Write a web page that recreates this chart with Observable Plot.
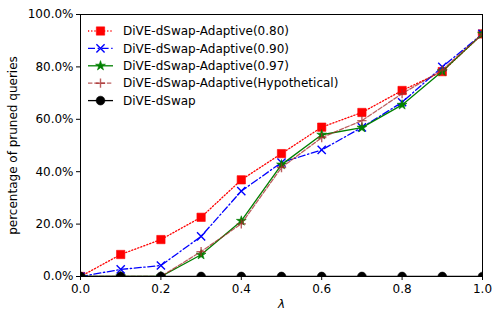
<!DOCTYPE html>
<html>
<head>
<meta charset="utf-8">
<script src="https://cdn.jsdelivr.net/npm/d3@7"></script>
<script src="https://cdn.jsdelivr.net/npm/@observablehq/plot@0.6"></script>
<style>
  html, body { margin: 0; padding: 0; background: #fff; }
  svg { font-family: "DejaVu Sans", sans-serif; }
</style>
</head>
<body>
<div id="chart"></div>
<script>
const lambdas = [0, 0.1, 0.2, 0.3, 0.4, 0.5, 0.6, 0.7, 0.8, 0.9, 1.0];
const adaptive080 = [0, 8.4, 14.1, 22.6, 36.9, 46.9, 57.0, 62.6, 71.0, 78.2, 92.6];
const adaptive090 = [0, 2.7, 4.2, 15.3, 32.6, 43.5, 48.3, 56.9, 66.5, 80.0, 92.6];
const adaptive097 = [0, 0, 0, 8.3, 21.2, 42.7, 54.1, 56.8, 65.5, 78.3, 92.6];
const hypothetical = [0, 0, 0, 9.5, 20.1, 41.6, 53.0, 59.5, 69.8, 78.8, 92.6];
const dswap = [0, 0, 0, 0, 0, 0, 0, 0, 0, 0, 0];
const seriesNames = [
  "DiVE-dSwap-Adaptive(0.80)",
  "DiVE-dSwap-Adaptive(0.90)",
  "DiVE-dSwap-Adaptive(0.97)",
  "DiVE-dSwap-Adaptive(Hypothetical)",
  "DiVE-dSwap"
];
const yTicks = [0, 0.2, 0.4, 0.6, 0.8, 1.0];
const xTicks = [0, 0.2, 0.4, 0.6, 0.8, 1.0];

const seriesValues = [adaptive080, adaptive090, adaptive097, hypothetical, dswap];
const styles = [
  {color: "#ff0000", dash: "1.2,2", symbol: "square", r: 4.7, filled: true, opacity: 1},
  {color: "#0000ff", dash: "7,2.6,1.4,2.6", symbol: "times", r: 3.8, filled: false, opacity: 1},
  {color: "#008000", dash: null, symbol: "star", r: 3.1, filled: true, opacity: 1},
  {color: "#a52a2a", dash: "4.4,1.9", symbol: "plus", r: 3.1, filled: false, opacity: 0.75},
  {color: "#000000", dash: null, symbol: "circle", r: 4.4, filled: true, opacity: 1}
];

const tables = seriesValues.map((vals, i) =>
  lambdas.map((l, j) => ({lambda: l, value: vals[j] / 100, series: seriesNames[i]}))
);

const marks = [];
tables.forEach((data, i) => {
  const s = styles[i];
  marks.push(Plot.line(data, {
    x: "lambda", y: "value", stroke: s.color, strokeWidth: 1.3,
    strokeDasharray: s.dash, strokeOpacity: s.opacity, clip: true
  }));
  marks.push(Plot.dot(data, {
    x: "lambda", y: "value", symbol: s.symbol, r: s.r,
    fill: s.filled ? s.color : "none",
    stroke: s.color, strokeWidth: s.filled ? 0.6 : 1.4,
    fillOpacity: s.opacity, strokeOpacity: s.opacity, clip: true
  }));
});

const chart = Plot.plot({
  width: 492,
  height: 310,
  marginLeft: 80,
  marginRight: 10,
  marginTop: 14,
  marginBottom: 34,
  style: {fontFamily: "DejaVu Sans, sans-serif", fontSize: "12px", color: "#000", background: "#fff"},
  x: {domain: [0, 1]},
  y: {domain: [0, 1]},
  marks: [
    ...marks,
    Plot.frame({stroke: "#000", strokeWidth: 1}),
    Plot.axisX({ticks: xTicks, tickFormat: d3.format(".1f"), tickSize: 4, tickPadding: 4,
      label: "λ", labelAnchor: "center", labelArrow: "none", labelOffset: 31, fontSize: 12}),
    Plot.axisY({ticks: yTicks, tickFormat: d3.format(".1%"), tickSize: 4, tickPadding: 3,
      label: "percentage of pruned queries", labelAnchor: "center", labelArrow: "none", labelOffset: 72, fontSize: 12})
  ]
});

document.getElementById("chart").appendChild(chart);

// italic lambda label
const svg = d3.select(chart);
svg.selectAll("text").filter(function() { return this.textContent === "λ"; }).style("font-style", "italic");

// legend
const legend = svg.append("g").attr("class", "legend").attr("text-anchor", "start");
const symbolMap = {square: d3.symbolSquare, times: d3.symbolTimes, star: d3.symbolStar, plus: d3.symbolPlus, circle: d3.symbolCircle};
seriesNames.forEach((name, i) => {
  const s = styles[i];
  const y = 31 + i * 17.4;
  legend.append("line").attr("x1", 88).attr("x2", 113).attr("y1", y).attr("y2", y)
    .attr("stroke", s.color).attr("stroke-width", 1.3)
    .attr("stroke-dasharray", s.dash).attr("stroke-opacity", s.opacity);
  legend.append("path")
    .attr("transform", `translate(100.5,${y})`)
    .attr("d", d3.symbol(symbolMap[s.symbol], Math.PI * s.r * s.r)())
    .attr("fill", s.filled ? s.color : "none")
    .attr("stroke", s.color).attr("stroke-width", s.filled ? 0.6 : 1.4)
    .attr("fill-opacity", s.opacity).attr("stroke-opacity", s.opacity);
  legend.append("text").attr("x", 123).attr("y", y).attr("dy", "0.35em")
    .attr("text-anchor", "start")
    .attr("font-size", 12).attr("fill", "#000").text(name);
});
</script>
</body>
</html>
